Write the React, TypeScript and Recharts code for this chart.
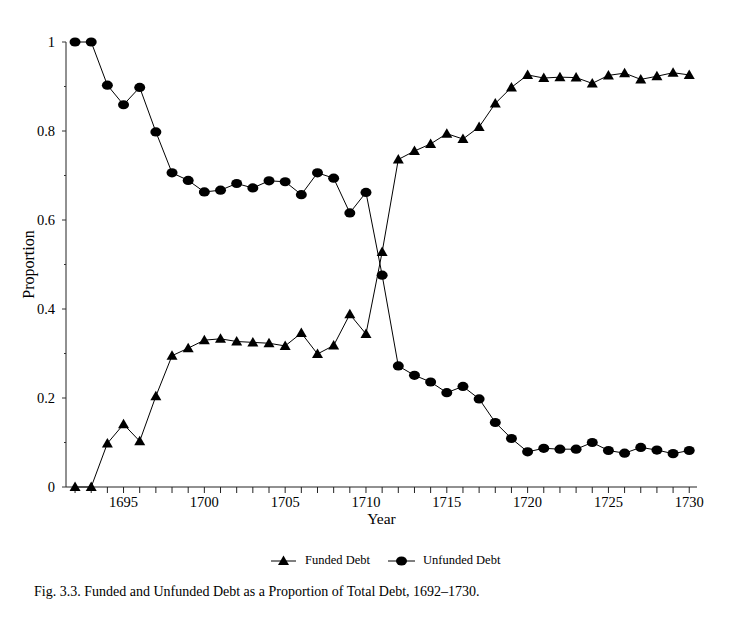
import { LineChart, Line, XAxis, YAxis } from 'recharts';

const years = [
  1692, 1693, 1694, 1695, 1696, 1697, 1698, 1699, 1700, 1701, 1702, 1703, 1704,
  1705, 1706, 1707, 1708, 1709, 1710, 1711, 1712, 1713, 1714, 1715, 1716, 1717,
  1718, 1719, 1720, 1721, 1722, 1723, 1724, 1725, 1726, 1727, 1728, 1729, 1730,
];

const funded = [
  0, 0, 0.098, 0.141, 0.103, 0.204, 0.295, 0.312, 0.33, 0.333, 0.327, 0.325, 0.323,
  0.317, 0.346, 0.299, 0.318, 0.388, 0.344, 0.528, 0.736, 0.755, 0.771, 0.794, 0.782, 0.809,
  0.862, 0.898, 0.926, 0.919, 0.921, 0.92, 0.907, 0.925, 0.93, 0.916, 0.923, 0.931, 0.926,
];

const unfunded = [
  1, 1, 0.903, 0.859, 0.898, 0.798, 0.706, 0.689, 0.663, 0.667, 0.682, 0.672, 0.688,
  0.686, 0.657, 0.706, 0.694, 0.616, 0.662, 0.476, 0.272, 0.251, 0.236, 0.212, 0.226, 0.198,
  0.145, 0.109, 0.079, 0.087, 0.085, 0.085, 0.1, 0.082, 0.076, 0.089, 0.083, 0.075, 0.082,
];

const yTicks = [0, 0.1, 0.2, 0.3, 0.4, 0.5, 0.6, 0.7, 0.8, 0.9, 1];
const xDomain = [1691.44, 1730.48];

const data = years.map((year, i) => ({ year, funded: funded[i], unfunded: unfunded[i] }));

const font = "'Liberation Serif', 'Times New Roman', Times, serif";

const Triangle = (props: any) => {
  const { cx, cy } = props;
  if (cx == null || cy == null) return null;
  return <polygon points={`${cx},${cy - 5.5} ${cx - 5.5},${cy + 4} ${cx + 5.5},${cy + 4}`} fill="#000" />;
};

const Ellipse = (props: any) => {
  const { cx, cy } = props;
  if (cx == null || cy == null) return null;
  return <ellipse cx={cx} cy={cy} rx={5.5} ry={4.6} fill="#000" />;
};

const XTick = (props: any) => {
  const { x, y, payload } = props;
  const v = payload.value;
  if (v % 5 !== 0) return null;
  return (
    <text x={x} y={y} dy="0.8em" textAnchor="middle" style={{ fontFamily: font, fontSize: 14.5 }} fill="#000">
      {v}
    </text>
  );
};

const YTick = (props: any) => {
  const { x, y, payload } = props;
  const v = payload.value;
  const major = Math.round(v * 10) % 2 === 0;
  const ax = x + 11;
  return (
    <g>
      <line x1={ax} x2={ax - (major ? 4 : 2)} y1={y} y2={y} stroke="#333" strokeWidth={1} />
      {major && (
        <text x={x} y={y} dy="0.35em" textAnchor="end" style={{ fontFamily: font, fontSize: 14.5 }} fill="#000">
          {v === 0 || v === 1 ? String(v) : v.toFixed(1)}
        </text>
      )}
    </g>
  );
};

export default function App() {
  return (
    <div style={{ position: 'relative', width: 739, height: 618, fontFamily: font }}>
      <LineChart width={739} height={530} data={data} margin={{ top: 34, right: 50, left: 0, bottom: 11 }}>
        <XAxis
          dataKey="year"
          type="number"
          domain={xDomain}
          ticks={years}
          interval={0}
          tickSize={6}
          tickMargin={2}
          height={40}
          stroke="#222"
          tick={<XTick />}
          label={{
            value: 'Year',
            position: 'insideBottom',
            offset: 3,
            fill: '#000',
            style: { fontFamily: font, fontSize: 15.5 },
          }}
        />
        <XAxis xAxisId="top" orientation="top" type="number" domain={xDomain} tick={false} tickLine={false} height={0} stroke="#555" />
        <YAxis
          domain={[0, 1]}
          ticks={yTicks}
          interval={0}
          width={58}
          tickSize={4}
          tickMargin={7}
          tickLine={false}
          stroke="#222"
          tick={<YTick />}
          label={{
            value: 'Proportion',
            angle: -90,
            position: 'insideLeft',
            offset: 20,
            fill: '#000',
            style: { textAnchor: 'middle', fontFamily: font, fontSize: 16 },
          }}
        />
        <YAxis yAxisId="right" orientation="right" tick={false} tickLine={false} width={0} stroke="#333" />
        <Line
          dataKey="funded"
          stroke="#000"
          strokeWidth={1}
          dot={<Triangle />}
          activeDot={false}
          isAnimationActive={false}
        />
        <Line
          dataKey="unfunded"
          stroke="#000"
          strokeWidth={1}
          dot={<Ellipse />}
          activeDot={false}
          isAnimationActive={false}
        />
      </LineChart>
      <div
        style={{
          position: 'absolute',
          left: 263,
          top: 545,
          display: 'flex',
          alignItems: 'center',
          fontFamily: font,
          fontSize: 12.5,
          color: '#000',
        }}
      >
        <svg width={25} height={14}>
          <line x1={0} x2={25} y1={7} y2={7} stroke="#000" strokeWidth={1} />
          <polygon points="12.5,1.5 7,11 18,11" fill="#000" />
        </svg>
        <span style={{ marginLeft: 9 }}>Funded Debt</span>
        <svg width={27} height={14} style={{ marginLeft: 18 }}>
          <line x1={0} x2={27} y1={7} y2={7} stroke="#000" strokeWidth={1} />
          <ellipse cx={13.5} cy={7} rx={5.5} ry={4.6} fill="#000" />
        </svg>
        <span style={{ marginLeft: 8 }}>Unfunded Debt</span>
      </div>
      <div
        style={{
          position: 'absolute',
          left: 26,
          top: 576,
          fontFamily: font,
          fontSize: 14,
          lineHeight: '16px',
          color: '#000',
          whiteSpace: 'nowrap',
        }}
      >
        Fig. 3.3. Funded and Unfunded Debt as a Proportion of Total Debt, 1692–1730.
      </div>
    </div>
  );
}
